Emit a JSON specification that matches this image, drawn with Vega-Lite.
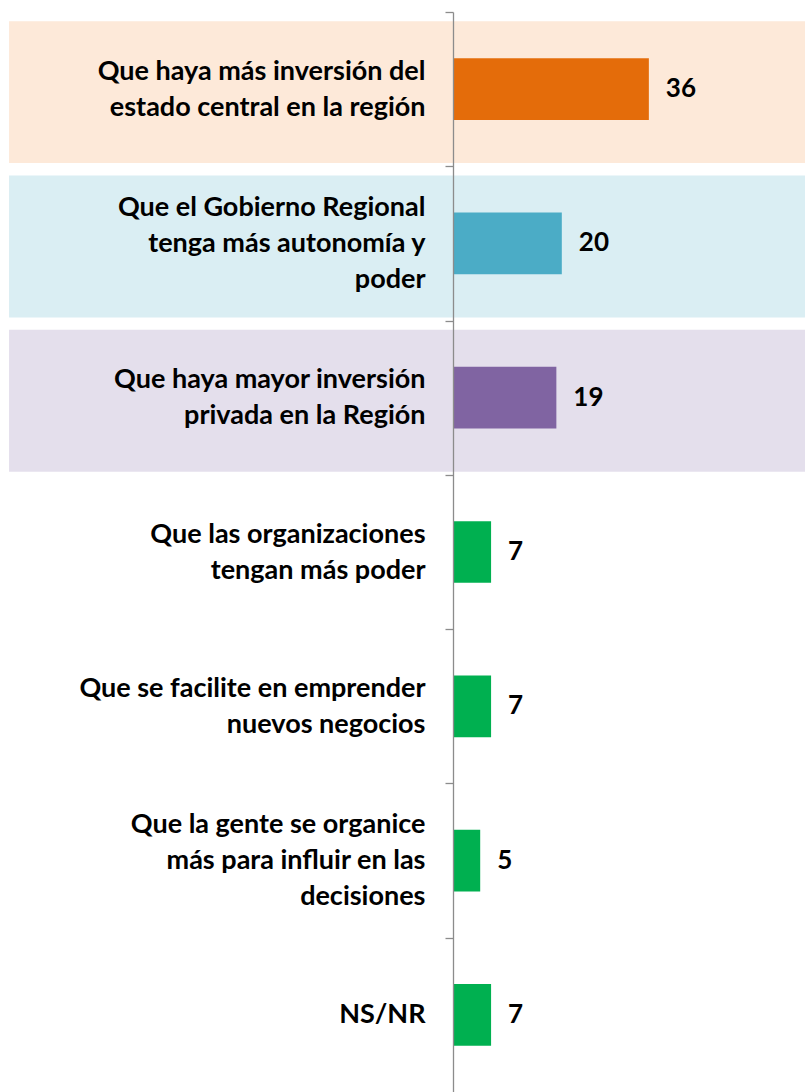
{
  "$schema": "https://vega.github.io/schema/vega-lite/v6.json",
  "width": 352,
  "height": 1080,
  "autosize": {"type": "none"},
  "padding": {"left": 453, "top": 12, "right": 0, "bottom": 0},
  "background": "white",
  "config": {"view": {"stroke": null}, "font": "Lato"},
  "data": {
    "values": [
      {"id": 1, "opcion": "Que haya más inversión del\nestado central en la región", "valor": 36},
      {"id": 2, "opcion": "Que el Gobierno Regional\ntenga más autonomía y\npoder", "valor": 20},
      {"id": 3, "opcion": "Que haya mayor inversión\nprivada en la Región", "valor": 19},
      {"id": 4, "opcion": "Que las organizaciones\ntengan más poder", "valor": 7},
      {"id": 5, "opcion": "Que se facilite en emprender\nnuevos negocios", "valor": 7},
      {"id": 6, "opcion": "Que la gente se organice\nmás para influir en las\ndecisiones", "valor": 5},
      {"id": 7, "opcion": "NS/NR", "valor": 7}
    ]
  },
  "encoding": {
    "y": {
      "field": "opcion",
      "type": "nominal",
      "sort": null,
      "scale": {"paddingInner": 0.6, "paddingOuter": 0.3},
      "axis": {
        "title": null,
        "domainColor": "#8C8C8C",
        "domainWidth": 1.3,
        "tickColor": "#8C8C8C",
        "tickWidth": 1.3,
        "tickSize": 8,
        "tickOffset": -77.14,
        "labelOffset": {
          "condition": [
            {"test": "length(split(datum.value, '\\n')) == 3", "value": 41.14},
            {"test": "length(split(datum.value, '\\n')) == 2", "value": 59.14}
          ],
          "value": 77.14
        },
        "labelBaseline": "middle",
        "labelExpr": "split(datum.value, '\\n')",
        "labelFont": "Lato",
        "labelFontSize": 27,
        "labelFontWeight": "bold",
        "labelColor": "#000000",
        "labelPadding": 20,
        "labelLimit": 0,
        "labelLineHeight": 36,
        "zindex": 1
      }
    }
  },
  "layer": [
    {
      "transform": [{"filter": "datum.id <= 3"}],
      "mark": {"type": "bar", "height": {"band": 2.3}, "yOffset": 3},
      "encoding": {
        "x": {"datum": -81.6, "type": "quantitative", "scale": {"domain": [0, 64.7], "nice": false, "zero": false}, "axis": null},
        "x2": {"datum": 64.7},
        "color": {
          "field": "id",
          "type": "nominal",
          "scale": {"domain": [1, 2, 3], "range": ["#FDE9D9", "#DAEEF3", "#E4DFEC"]},
          "legend": null
        }
      }
    },
    {
      "mark": {"type": "bar"},
      "encoding": {
        "x": {"field": "valor", "type": "quantitative", "scale": {"domain": [0, 64.7], "nice": false, "zero": false}, "axis": null},
        "color": {
          "field": "id",
          "type": "nominal",
          "scale": {"domain": [1, 2, 3, 4, 5, 6, 7], "range": ["#E46C0A", "#4BACC6", "#8064A2", "#00B050", "#00B050", "#00B050", "#00B050"]},
          "legend": null
        }
      }
    },
    {
      "mark": {"type": "text", "align": "left", "baseline": "middle", "dx": 17, "font": "Lato", "fontSize": 26, "fontWeight": "bold", "color": "#000000"},
      "encoding": {
        "x": {"field": "valor", "type": "quantitative", "axis": null},
        "text": {"field": "valor", "type": "quantitative"}
      }
    }
  ],
  "resolve": {"scale": {"color": "independent"}}
}
